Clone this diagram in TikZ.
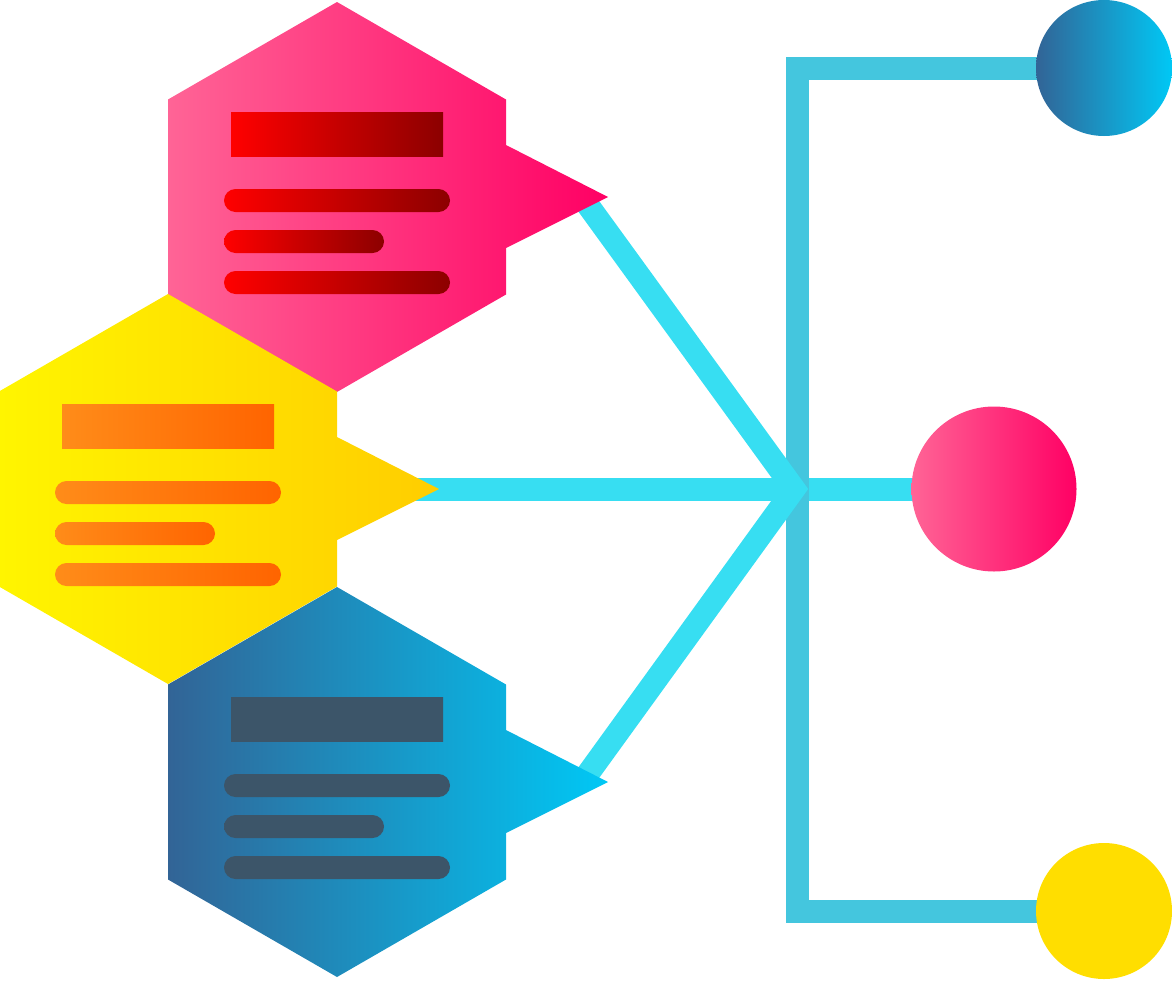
\documentclass[tikz,border=0pt]{standalone}
\usepackage{tikz}
\usetikzlibrary{calc}
\usetikzlibrary{backgrounds}

\definecolor{pinkL}{RGB}{255,100,150}
\definecolor{pinkR}{RGB}{255,0,100}
\definecolor{redL}{RGB}{255,0,0}
\definecolor{redR}{RGB}{140,0,0}
\definecolor{yelL}{RGB}{255,245,0}
\definecolor{yelR}{RGB}{255,205,0}
\definecolor{orgL}{RGB}{255,140,25}
\definecolor{orgR}{RGB}{255,100,0}
\definecolor{bluL}{RGB}{50,100,150}
\definecolor{bluR}{RGB}{0,200,245}
\definecolor{slate}{RGB}{60,85,105}
\definecolor{wireA}{RGB}{68,198,222}
\definecolor{wireB}{RGB}{55,222,242}
\definecolor{sunny}{RGB}{255,222,0}

\begin{document}
\begin{tikzpicture}[x=1pt,y=-1pt,
        wire/.style={line width=23pt, line join=miter},
        bubble/.style={circle, inner sep=0pt, draw=none},
        bar/.style={rounded corners=11.5pt}]
        \useasboundingbox (0,0) rectangle (1172,980);

        % hexagon cards with their pointers
        \foreach \cx/\cy/\card/\hexL/\hexR/\barL/\barR in {337/197/pink/pinkL/pinkR/redL/redR,
                168/489/yel/yelL/yelR/orgL/orgR,
                337/782/blu/bluL/bluR/slate/slate}{
            \begin{scope}[shift={(\cx,\cy)}]
                \shade[left color=\hexL, right color=\hexR] (0,-195) -- (169,-97.5) -- (169,-52)
                    -- (271,0) -- (169,51) -- (169,97.5) -- (0,195) -- (-169,97.5)
                    -- (-169,-97.5) -- cycle;
                \coordinate (\card-joint) at (245,0);
                \shade[left color=\barL, right color=\barR] (-106,-85) rectangle (106,-41);
                \shade[bar, left color=\barL, right color=\barR] (-113,-8) rectangle (113,15);
                \shade[bar, left color=\barL, right color=\barR] (-113,33) rectangle (47,56);
                \shade[bar, left color=\barL, right color=\barR] (-113,74) rectangle (113,97);
            \end{scope}
        }

        \node[bubble, minimum size=136pt, left color=bluL, right color=bluR] (top) at (1104,68) {};
        \node[bubble, minimum size=165pt, left color=pinkL, right color=pinkR] (mid) at (994,489) {};
        \node[bubble, minimum size=136pt, fill=sunny] (bot) at (1104,911) {};

        \begin{scope}[on background layer]
            \coordinate (fork) at (794,489);
            \coordinate (spine top) at (797,68);
            \coordinate (spine bot) at (797,911);
            \draw[wire, wireB] (yel-joint) -- (mid.center);
            \draw[wire, wireA] (top.center) -- (spine top) -- (spine bot) -- (bot.center);
            \draw[wire, wireB] (pink-joint) -- (fork) -- (blu-joint);
        \end{scope}
    \end{tikzpicture}
\end{document}
